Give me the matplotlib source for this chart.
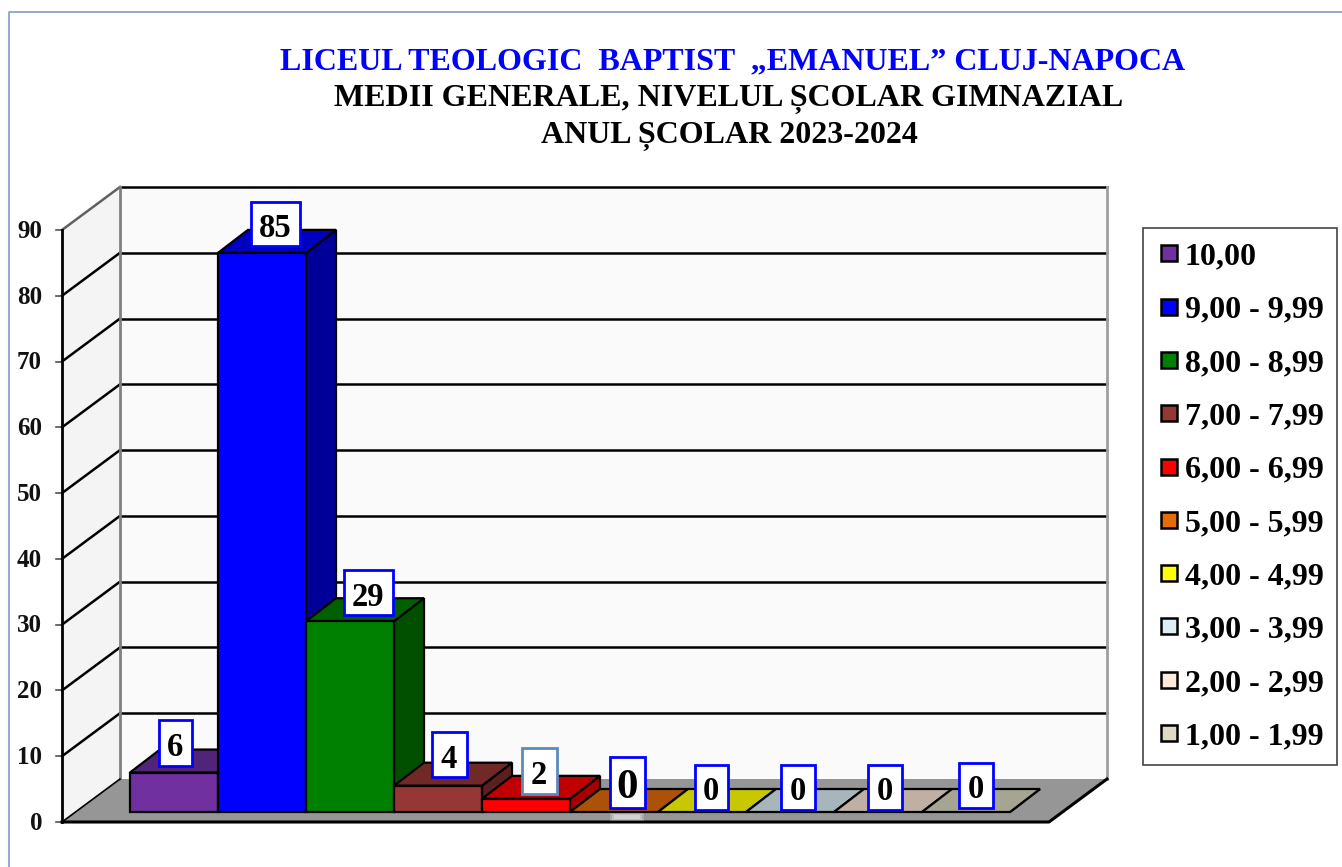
import matplotlib
matplotlib.use('Agg')
import matplotlib.pyplot as plt
from matplotlib.lines import Line2D
from matplotlib.patches import Polygon, Rectangle

W, H = 1342, 867

CATEGORIES = ['10,00', '9,00 - 9,99', '8,00 - 8,99', '7,00 - 7,99', '6,00 - 6,99',
              '5,00 - 5,99', '4,00 - 4,99', '3,00 - 3,99', '2,00 - 2,99', '1,00 - 1,99']
VALUES = [6, 85, 29, 4, 2, 0, 0, 0, 0, 0]
TICKS = [0, 10, 20, 30, 40, 50, 60, 70, 80, 90]

FRONT = ['#7030A0', '#0000FF', '#008000', '#953735', '#FF0000',
         '#E46C0A', '#FFFF00', '#DBEEF4', '#FDEADA', '#DDD9C3']
TOP = ['#512479', '#0000C0', '#006000', '#702927', '#C00000',
       '#AC5208', '#C8C800', '#A6B6BB', '#C0B0A4', '#A6A492']
SIDE = ['#3E1B5C', '#000099', '#005000', '#5A201F', '#A80000',
        '#8A4206', '#A0A000', '#8A979B', '#9C8F85', '#878576']

# label box offsets from the bar, the boxes were placed by hand in the original
LABEL_DX = [45, 57, 62, 55, 57, 57, 53, 51.5, 50.5, 54]
LABEL_DY = [-30, -29, -29, -31, -28, -30, -25, -25, -25, -27]
LABEL_W = [33, 49, 49, 35, 35, 35, 33, 34, 34, 34]
LABEL_H = [46, 44, 45, 45, 46, 51, 45, 45, 45, 45]
LABEL_SIZE = [23.5, 23.5, 23.5, 23.5, 23.5, 31, 23.5, 23.5, 23.5, 23.5]
LABEL_EDGE = ['#0000FF'] * 10
LABEL_EDGE[4] = '#5B8AC0'

# pixel layout of the 3d box
BAR_X0, BAR_W, BAR_Y0 = 130, 88, 812
PX_PER_UNIT = 6.578
BAR_DX, BAR_DY = 30, 23
AX_X0, AX_X1, AX_Y0 = 62, 1049, 822
WALL_DX, WALL_DY = 58, 43

plt.rcParams['font.family'] = ['Liberation Serif', 'DejaVu Serif']
plt.rcParams['font.weight'] = 'bold'

fig = plt.figure(figsize=(W / 100, H / 100), dpi=100)
# x in category widths, y in chart values, so one axes carries the whole drawing
ax = fig.add_axes([0, 0, 1, 1])
ax.set_xlim(-BAR_X0 / BAR_W, (W - BAR_X0) / BAR_W)
ax.set_ylim((BAR_Y0 - H) / PX_PER_UNIT, BAR_Y0 / PX_PER_UNIT)
ax.axis('off')


def X(px):
    return (px - BAR_X0) / BAR_W


def Y(py):
    return (BAR_Y0 - py) / PX_PER_UNIT


ddx, ddy = BAR_DX / BAR_W, BAR_DY / PX_PER_UNIT
wdx, wdy = WALL_DX / BAR_W, WALL_DY / PX_PER_UNIT
ax_x0, ax_x1, ax_y0 = X(AX_X0), X(AX_X1), Y(AX_Y0)
top_val = ax_y0 + TICKS[-1]

# outer frame
ax.plot([X(9), X(9), X(W)], [Y(H), Y(12), Y(12)], color='#829BC6', lw=1.2, zorder=1)

# walls and floor
ax.add_patch(Polygon([(ax_x0 + wdx, ax_y0 + wdy), (ax_x1 + wdx, ax_y0 + wdy),
                      (ax_x1 + wdx, top_val + wdy), (ax_x0 + wdx, top_val + wdy)],
                     fc='#FAFAFA', ec='none', zorder=1))
ax.add_patch(Polygon([(ax_x0, ax_y0), (ax_x0 + wdx, ax_y0 + wdy),
                      (ax_x0 + wdx, top_val + wdy), (ax_x0, top_val)],
                     fc='#F4F4F4', ec='none', zorder=1))
ax.add_patch(Polygon([(ax_x0, ax_y0), (ax_x1, ax_y0),
                      (ax_x1 + wdx, ax_y0 + wdy), (ax_x0 + wdx, ax_y0 + wdy)],
                     fc='#969696', ec='none', zorder=1))

# gridlines run along both walls
for t in TICKS:
    yy = ax_y0 + t
    c = '#606060' if t == 90 else 'black'
    if t > 0:
        ax.plot([ax_x0 + wdx, ax_x1 + wdx], [yy + wdy, yy + wdy], color='black', lw=1.8, zorder=2)
        ax.plot([ax_x0, ax_x0 + wdx], [yy, yy + wdy], color=c, lw=1.8, zorder=2)
    ax.plot([X(56), ax_x0], [yy, yy], color='#505050', lw=1.2, zorder=2)
    ax.text(X(42), yy - 0.2, str(t), ha='right', va='center', fontsize=18, color='#111111')

ax.plot([ax_x0 + wdx] * 2, [ax_y0 + wdy, top_val + wdy], color='#808080', lw=2, zorder=2)
ax.plot([ax_x1 + wdx] * 2, [ax_y0 + wdy, top_val + wdy], color='#A0A0A0', lw=2, zorder=2)
ax.plot([ax_x0, ax_x0], [ax_y0, top_val], color='black', lw=2, zorder=2)
ax.plot([ax_x0, ax_x1, ax_x1 + wdx], [ax_y0, ax_y0, ax_y0 + wdy], color='black', lw=2.2, zorder=2)
ax.plot([ax_x0, ax_x0 + wdx], [ax_y0, ax_y0 + wdy], color='black', lw=1.2, zorder=2)

# bars, each one sits in front of the side face of the previous one
for i, v in enumerate(VALUES):
    z = 3 + i * 0.1
    ax.add_patch(Polygon([(i + 1, 0), (i + 1 + ddx, ddy), (i + 1 + ddx, v + ddy), (i + 1, v)],
                         fc=SIDE[i], ec='black', lw=1.6, zorder=z))
    ax.add_patch(Polygon([(i, v), (i + 1, v), (i + 1 + ddx, v + ddy), (i + ddx, v + ddy)],
                         fc=TOP[i], ec='black', lw=1.6, zorder=z))
    if v > 0:
        ax.add_patch(Rectangle((i, 0), 1, v, fc=FRONT[i], ec='black', lw=1.6, zorder=z))

# soft smudge under the big zero
for inset, a in zip([0, 2, 4], [0.2, 0.25, 0.3]):
    ax.add_patch(Rectangle((X(610 + inset), Y(821 - inset / 2)), (34 - 2 * inset) / BAR_W,
                           (8 - inset) / PX_PER_UNIT, fc='white', ec='none', alpha=a, zorder=5))

# value labels
for i, v in enumerate(VALUES):
    cx = i + LABEL_DX[i] / BAR_W
    cy = v - LABEL_DY[i] / PX_PER_UNIT
    w, h = LABEL_W[i] / BAR_W, LABEL_H[i] / PX_PER_UNIT
    ax.add_patch(Rectangle((cx - w / 2, cy - h / 2), w, h, fc='white', ec=LABEL_EDGE[i],
                           lw=2, zorder=6))
    ax.text(cx, cy - 0.2, str(v), ha='center', va='center_baseline', fontsize=LABEL_SIZE[i],
            color='black', zorder=7)

# title
ax.text(X(733), Y(62), 'LICEUL TEOLOGIC  BAPTIST  „EMANUEL” CLUJ-NAPOCA', ha='center', va='center',
        fontsize=23, color='#0000FF')
ax.text(X(729), Y(99), 'MEDII GENERALE, NIVELUL ȘCOLAR GIMNAZIAL', ha='center', va='center',
        fontsize=23, color='black')
ax.text(X(729), Y(136), 'ANUL ȘCOLAR 2023-2024', ha='center', va='center',
        fontsize=23, color='black')

handles = [Line2D([], [], ls='none', marker='s', ms=11.5, mfc=c, mec='black', mew=1.8) for c in FRONT]
leg = ax.legend(handles, CATEGORIES, loc='upper left',
                bbox_to_anchor=(1143 / W, 1 - 228 / H), bbox_transform=fig.transFigure,
                fontsize=23, frameon=True, fancybox=False, framealpha=1, edgecolor='#444444',
                numpoints=1, handlelength=0.75, handletextpad=0.11, labelspacing=0.75,
                borderpad=0.44, borderaxespad=0)
leg.get_frame().set_linewidth(1.2)
leg.set_zorder(8)

fig.savefig('out.png', dpi=100)
